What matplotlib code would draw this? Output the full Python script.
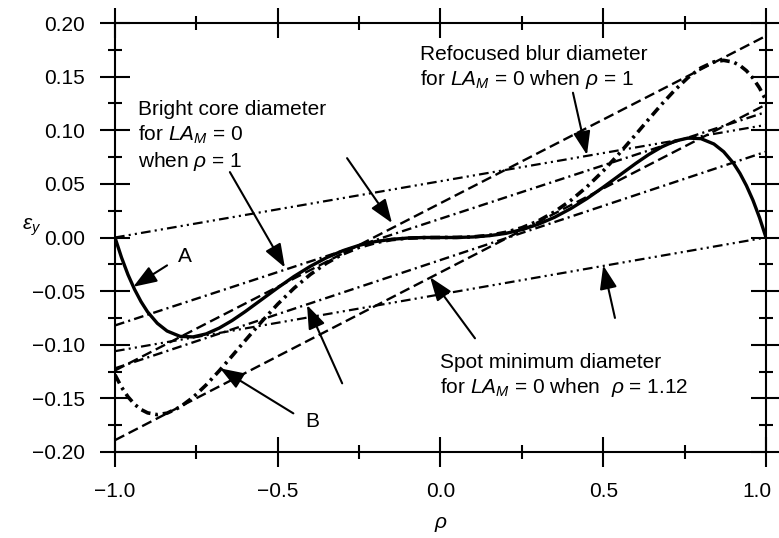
import matplotlib
matplotlib.use('Agg')
import matplotlib.pyplot as plt
import matplotlib.transforms as mtransforms
from matplotlib.ticker import MultipleLocator, FuncFormatter

plt.rcParams['font.family'] = ['Liberation Sans', 'DejaVu Sans']
plt.rcParams['mathtext.fontset'] = 'custom'
plt.rcParams['mathtext.rm'] = 'Liberation Sans'
plt.rcParams['mathtext.it'] = 'Liberation Sans:italic'
plt.rcParams['lines.scale_dashes'] = False

# curve A (solid) and curve B (heavy dash-dot)
rho = [-1.00, -0.98, -0.96, -0.94, -0.92, -0.90, -0.87, -0.84, -0.80, -0.76,
       -0.72, -0.68, -0.64, -0.60, -0.55, -0.50, -0.45, -0.40, -0.35, -0.30,
       -0.25, -0.20, -0.15, -0.10, -0.05, 0.00, 0.05, 0.10, 0.15, 0.20,
       0.25, 0.30, 0.35, 0.40, 0.45, 0.50, 0.55, 0.60, 0.64, 0.68,
       0.72, 0.76, 0.80, 0.84, 0.87, 0.90, 0.92, 0.94, 0.96, 0.98, 1.00]
curve_a = [0.0, -0.0186, -0.0347, -0.0483, -0.0598, -0.0693, -0.0800, -0.0872, -0.0922, -0.0927,
           -0.0899, -0.0845, -0.0774, -0.0691, -0.0580, -0.0469, -0.0363, -0.0269, -0.0188, -0.0123,
           -0.0073, -0.0038, -0.0017, -0.0005, 0.0, 0.0, 0.0, 0.0005, 0.0017, 0.0038,
           0.0073, 0.0123, 0.0188, 0.0269, 0.0363, 0.0469, 0.0580, 0.0691, 0.0774, 0.0845,
           0.0899, 0.0927, 0.0922, 0.0872, 0.0800, 0.0693, 0.0598, 0.0483, 0.0347, 0.0186, 0.0]
curve_b = [-0.128, -0.1395, -0.1486, -0.1555, -0.1604, -0.1635, -0.1652, -0.1638, -0.1581, -0.1490,
           -0.1375, -0.1244, -0.1104, -0.0961, -0.0786, -0.0621, -0.0473, -0.0345, -0.0239, -0.0154,
           -0.0091, -0.0048, -0.0020, -0.0006, -0.0001, 0.0, 0.0001, 0.0006, 0.0020, 0.0048,
           0.0091, 0.0154, 0.0239, 0.0345, 0.0473, 0.0621, 0.0786, 0.0961, 0.1104, 0.1244,
           0.1375, 0.1490, 0.1581, 0.1638, 0.1652, 0.1635, 0.1604, 0.1555, 0.1486, 0.1395, 0.128]

# straight reference lines, values at rho = -1 and rho = 1
line_rho = [-1.0, 1.0]
blur_upper = [-0.124, 0.188]
blur_lower = [-0.189, 0.124]
core_upper = [-0.082, 0.117]
core_lower = [-0.122, 0.080]
spot_upper = [0.0, 0.105]
spot_lower = [-0.106, 0.0]

dashed = (0, (7.5, 3.5))
dashdot = (0, (7, 3, 1.5, 3))
dashdotdot = (0, (7, 3, 1.5, 3, 1.5, 3))
heavy_dashdot = (0, (7, 3.5, 2, 3.5))

fig = plt.figure(figsize=(7.79, 5.38), dpi=100)
ax = fig.add_axes([0.1476, 0.1599, 0.8357, 0.7973])

ax.plot(line_rho, blur_upper, color='black', lw=1.7, linestyle=dashed)
ax.plot(line_rho, blur_lower, color='black', lw=1.7, linestyle=dashed)
ax.plot(line_rho, core_upper, color='black', lw=1.7, linestyle=dashdot)
ax.plot(line_rho, core_lower, color='black', lw=1.7, linestyle=dashdot)
ax.plot(line_rho, spot_upper, color='black', lw=1.6, linestyle=dashdotdot)
ax.plot(line_rho, spot_lower, color='black', lw=1.6, linestyle=dashdotdot)
ax.plot(rho, curve_b, color='black', lw=2.6, linestyle=heavy_dashdot)
ax.plot(rho, curve_a, color='black', lw=2.4, solid_capstyle='round')

# arrows: (tail, tip)
arrows = [((-0.647, 0.061), (-0.478, -0.028)),
          ((-0.287, 0.074), (-0.149, 0.0135)),
          ((0.407, 0.135), (0.45, 0.077)),
          ((-0.302, -0.136), (-0.41, -0.063)),
          ((0.106, -0.094), (-0.032, -0.037)),
          ((0.536, -0.075), (0.50, -0.026)),
          ((-0.84, -0.026), (-0.944, -0.046)),
          ((-0.452, -0.164), (-0.677, -0.122))]
for tail, tip in arrows:
    ax.annotate('', xy=tip, xytext=tail,
                arrowprops=dict(arrowstyle='-|>,head_length=0.9,head_width=0.33',
                                mutation_scale=16, color='black', lw=1.5,
                                shrinkA=0, shrinkB=0))

fs = 15
ax.text(-0.929, 0.1142, 'Bright core diameter', fontsize=fs, va='baseline')
ax.text(-0.929, 0.0900, 'for $LA_M$ = 0', fontsize=fs, va='baseline')
ax.text(-0.929, 0.0657, r'when $\rho$ = 1', fontsize=fs, va='baseline')
ax.text(-0.063, 0.1655, 'Refocused blur diameter', fontsize=fs, va='baseline')
ax.text(-0.063, 0.1422, r'for $LA_M$ = 0 when $\rho$ = 1', fontsize=fs, va='baseline')
ax.text(0.0, -0.1217, 'Spot minimum diameter', fontsize=fs, va='baseline')
ax.text(0.0, -0.1450, r'for $LA_M$ = 0 when  $\rho$ = 1.12', fontsize=fs, va='baseline')
ax.text(-0.785, -0.0228, 'A', fontsize=fs, ha='center', va='baseline')
ax.text(-0.394, -0.1767, 'B', fontsize=fs, ha='center', va='baseline')

ax.set_xlim(-1.0, 1.0)
ax.set_ylim(-0.2, 0.2)
ax.xaxis.set_major_locator(MultipleLocator(0.5))
ax.xaxis.set_minor_locator(MultipleLocator(0.25))
ax.yaxis.set_major_locator(MultipleLocator(0.05))
ax.yaxis.set_minor_locator(MultipleLocator(0.025))
ax.xaxis.set_major_formatter(FuncFormatter(lambda v, p: f'{v:.1f}'.replace('-', '\u2212')))
ax.yaxis.set_major_formatter(FuncFormatter(lambda v, p: f'{v:.2f}'.replace('-', '\u2212')))
ax.tick_params(which='major', direction='inout', length=21, width=1.5,
               labelsize=fs, pad=11, top=True, right=True)
ax.tick_params(which='minor', direction='inout', length=10, width=1.5,
               top=True, right=True)
for s in ax.spines.values():
    s.set_linewidth(1.5)

ax.set_xlabel(r'$\rho$', fontsize=fs, labelpad=10)
ax.set_ylabel(r'$\varepsilon_y$', fontsize=fs, rotation=0, labelpad=12)
ax.yaxis.set_label_coords(-0.128, 0.5)

# the "1.0" tick label sits a little left of its tick so it stays inside
fig.canvas.draw()
shift = mtransforms.ScaledTranslation(-9 / 100, 0, fig.dpi_scale_trans)
for lab in ax.get_xticklabels():
    if lab.get_text() == '1.0':
        lab.set_transform(lab.get_transform() + shift)

fig.savefig('out.png', dpi=100)
